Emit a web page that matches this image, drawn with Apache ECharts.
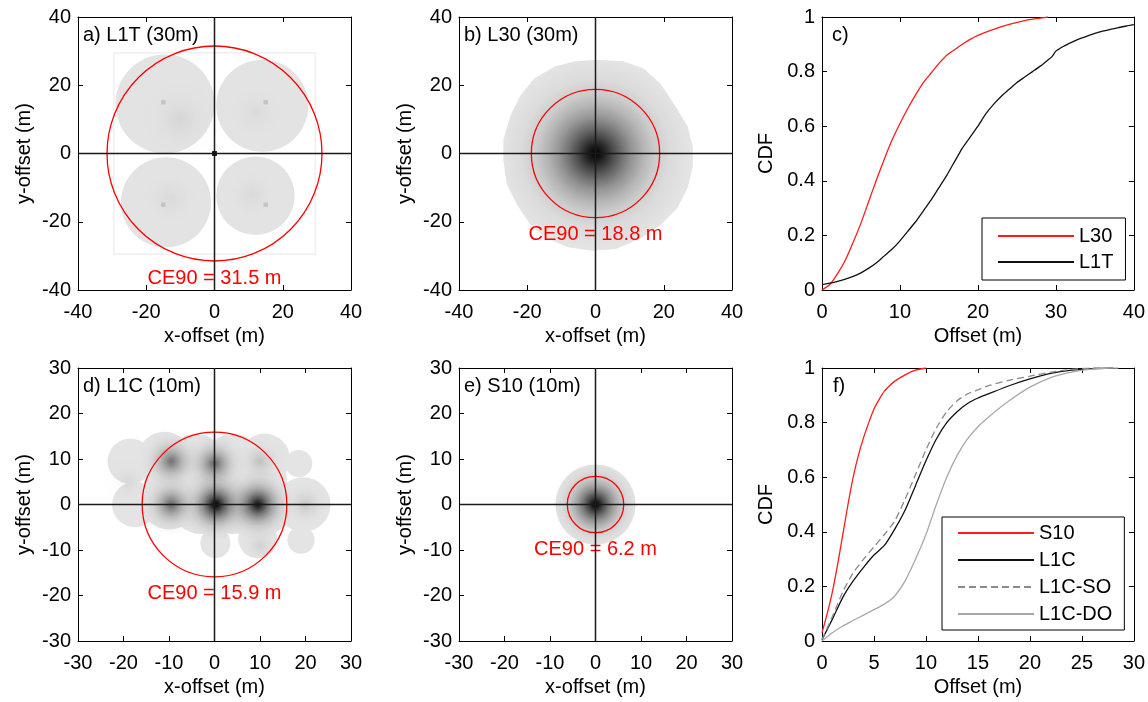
<!DOCTYPE html>
<html>
<head>
<meta charset="utf-8">
<script src="https://cdn.jsdelivr.net/npm/echarts@6/dist/echarts.min.js"></script>
<style>
  html, body { margin: 0; padding: 0; background: #fff; }
  #chart { width: 1148px; height: 702px; }
</style>
</head>
<body>
<div id="chart"></div>
<script>
// ---------- axis ticks ----------
const ticks40 = [-40, -20, 0, 20, 40];
const ticks30 = [-30, -20, -10, 0, 10, 20, 30];
const cdfTicksC = [0, 10, 20, 30, 40];
const cdfTicksF = [0, 5, 10, 15, 20, 25, 30];
const cdfTicksY = [0, 0.2, 0.4, 0.6, 0.8, 1];

// ---------- panel labels ----------
const panelTitles = ['a) L1T (30m)', 'b) L30 (30m)', 'c)', 'd) L1C (10m)', 'e) S10 (10m)', 'f)'];

// ---------- CE90 radii (m), panels a, b, d, e ----------
const ce90Radius = [31.5, 18.8, 15.9, 6.2];

// ---------- offset footprints ----------
// discs: [x, y, radius]; cores: [x, y, radius, darkness]
const l1tDiscs = [[-14.5, 14.5, 14.5], [14, 14, 13.5], [-14.2, -14.3, 13.2], [12, -12.4, 11.5]];
const l1tCores = [[-10, 10, 12, 0.06], [12, 12, 10, 0.03], [-13, -13, 10, 0.04], [11, -12, 9, 0.04]];
const l1tSpots = [[-15, 15], [15, 15], [-15, -15], [15, -15]];
const l1tCentre = [[0, 0]];
const l1tFrame = [[-29.5, 29.5, 29.5, -29.5]];

const l30Outline = [
  [0, 27.5], [8, 27], [14, 25], [19, 20.5], [23, 14.5], [27, 8], [28.5, 2], [28.5, -4],
  [27, -10], [24, -16], [19, -21], [13, -25], [6, -28], [-1, -28.5], [-8, -27.5],
  [-14, -25], [-19, -21], [-23, -15], [-26, -9], [-27, -2], [-27, 4], [-25, 11],
  [-22, 17], [-18, 22], [-12, 25.5], [-6, 27]
];
const l30Cores = [[0, 0, 28, 1]];

const l1cDiscs = [
  [-18.5, 9.5, 5], [-11, 10, 6], [-4, 10, 5.6], [4, 10, 5.6], [11, 10, 5.6], [18.5, 9, 3],
  [-17.5, 0, 5], [-10, 1, 6.5], [-3, 0, 6.5], [4, 0, 6.5], [11, 0, 6.5], [19.5, 0, 6],
  [-10, 5, 5.5], [0, 5, 6], [10, 5, 6],
  [0.2, -8.5, 3.3], [9.5, -7.5, 4.3], [19, -7.8, 3]
];
const l1cCores = [
  [0.3, 0, 8, 1], [9.5, 0, 8, 0.92], [-9.5, 0, 7, 0.55], [-9.5, 9.5, 7, 0.5],
  [0, 9, 7, 0.55], [10, 9.5, 6, 0.15], [20, 0, 6, 0.12], [10, -9, 5, 0.08], [-19, 5, 6, 0.05]
];

const s10Discs = [[0, 0, 8.8]];
const s10Cores = [[0, 0, 9.5, 1]];

// ---------- CDF curves: [offset (m), fraction] ----------
const l30Cdf = [[0, 0], [1, 0.02], [2, 0.06], [3, 0.11], [4, 0.175], [5, 0.245], [6, 0.325], [7, 0.405],
  [8, 0.48], [9, 0.55], [10, 0.61], [11, 0.665], [12, 0.715], [13, 0.76], [14, 0.795], [15, 0.83],
  [16, 0.86], [17, 0.88], [18, 0.9], [19, 0.918], [20, 0.933], [22, 0.955], [24, 0.973], [26, 0.987],
  [28, 0.996], [29, 1]];
const l1tCdf = [[0, 0.02], [1, 0.025], [2, 0.032], [3, 0.04], [4, 0.05], [5, 0.063], [6, 0.08], [7, 0.1],
  [8, 0.125], [9, 0.15], [10, 0.18], [11, 0.215], [12, 0.25], [13, 0.29], [14, 0.33], [15, 0.375],
  [16, 0.42], [17, 0.47], [18, 0.52], [19, 0.56], [20, 0.6], [21, 0.645], [22, 0.68], [23, 0.71],
  [24, 0.735], [25, 0.76], [26, 0.78], [27, 0.8], [28, 0.82], [29, 0.843], [29.5, 0.855], [30, 0.875],
  [31, 0.893], [32, 0.907], [33, 0.92], [34, 0.93], [35, 0.94], [36, 0.948], [37, 0.955], [38, 0.961],
  [39, 0.967], [40, 0.972]];
const s10Cdf = [[0, 0.03], [0.5, 0.1], [1, 0.18], [1.5, 0.28], [2, 0.39], [2.5, 0.5], [3, 0.6], [3.5, 0.68],
  [4, 0.745], [4.5, 0.8], [5, 0.85], [5.5, 0.885], [6, 0.915], [6.5, 0.935], [7, 0.952], [8, 0.975],
  [9, 0.992], [10, 1]];
const l1cCdf = [[0, 0.005], [1, 0.08], [2, 0.16], [3, 0.22], [4, 0.27], [5, 0.315], [6, 0.35], [7, 0.41],
  [8, 0.48], [9, 0.57], [10, 0.66], [11, 0.74], [12, 0.8], [13, 0.84], [14, 0.87], [15, 0.89],
  [16, 0.905], [18, 0.935], [20, 0.96], [22, 0.98], [24, 0.992], [26, 0.998], [28, 1]];
const l1cSoCdf = [[0, 0.005], [1, 0.09], [2, 0.18], [3, 0.25], [4, 0.3], [5, 0.345], [6, 0.39], [7, 0.44],
  [8, 0.52], [9, 0.61], [10, 0.7], [11, 0.78], [12, 0.84], [13, 0.88], [14, 0.905], [15, 0.92],
  [16, 0.935], [18, 0.955], [20, 0.97], [22, 0.985], [24, 0.995], [26, 1], [27.5, 1]];
const l1cDoCdf = [[0, 0], [1, 0.03], [2, 0.055], [3, 0.075], [4, 0.095], [5, 0.115], [6, 0.135], [7, 0.165],
  [8, 0.22], [9, 0.3], [10, 0.39], [11, 0.5], [12, 0.6], [13, 0.68], [14, 0.74], [15, 0.785],
  [16, 0.82], [18, 0.88], [20, 0.93], [22, 0.965], [24, 0.985], [26, 0.996], [28, 1], [28.5, 1]];

// ---------- styling ----------
const FONT = '"Liberation Sans", Arial, Helvetica, sans-serif';
const FS = 20;
const INK = '#000';
const PLATEAU = '#e4e4e4';
// radial fall-off of the dark cores (offset along radius, opacity)
const coreFalloff = [[0, 1], [0.08, 0.88], [0.18, 0.68], [0.28, 0.5], [0.38, 0.35], [0.5, 0.21],
  [0.62, 0.11], [0.78, 0.04], [1, 0]];

const grids = [
  { left: 78, top: 17, width: 273, height: 273 },
  { left: 459, top: 17, width: 273, height: 273 },
  { left: 822, top: 17, width: 312, height: 273 },
  { left: 78, top: 368, width: 273, height: 273 },
  { left: 459, top: 368, width: 273, height: 273 },
  { left: 822, top: 368, width: 312, height: 273 }
];

const xAxes = [];
const yAxes = [];
function addAxes(g, xt, yt, xName, yName, yGap) {
  const common = {
    gridIndex: g, type: 'value', splitLine: { show: false },
    axisLine: { show: true, onZero: false, lineStyle: { color: INK, width: 1 } },
    axisTick: { show: true, inside: true, length: 5, lineStyle: { color: INK, width: 1 } }
  };
  const label = { show: true, fontSize: FS, fontFamily: FONT, color: INK, showMinLabel: true, showMaxLabel: true };
  const nameStyle = { fontSize: FS, fontFamily: FONT, color: INK };
  xAxes.push(Object.assign({}, common, {
    position: 'bottom', min: xt[0], max: xt[xt.length - 1], interval: xt[1] - xt[0],
    axisLabel: Object.assign({ margin: 12 }, label),
    name: xName, nameLocation: 'middle', nameGap: 36, nameTextStyle: nameStyle
  }));
  xAxes.push(Object.assign({}, common, {
    position: 'top', min: xt[0], max: xt[xt.length - 1], interval: xt[1] - xt[0],
    axisLabel: { show: false }
  }));
  yAxes.push(Object.assign({}, common, {
    position: 'left', min: yt[0], max: yt[yt.length - 1], interval: yt[1] - yt[0],
    axisLabel: Object.assign({ margin: 7 }, label),
    name: yName, nameLocation: 'middle', nameGap: yGap, nameTextStyle: nameStyle
  }));
  yAxes.push(Object.assign({}, common, {
    position: 'right', min: yt[0], max: yt[yt.length - 1], interval: yt[1] - yt[0],
    axisLabel: { show: false }
  }));
}
addAxes(0, ticks40, ticks40, 'x-offset (m)', 'y-offset (m)', 44);
addAxes(1, ticks40, ticks40, 'x-offset (m)', 'y-offset (m)', 44);
addAxes(2, cdfTicksC, cdfTicksY, 'Offset (m)', 'CDF', 46);
addAxes(3, ticks30, ticks30, 'x-offset (m)', 'y-offset (m)', 44);
addAxes(4, ticks30, ticks30, 'x-offset (m)', 'y-offset (m)', 44);
addAxes(5, cdfTicksF, cdfTicksY, 'Offset (m)', 'CDF', 46);

function onGrid(g) {
  return { xAxisIndex: 2 * g, yAxisIndex: 2 * g, animation: false, silent: true };
}

function discSeries(g, data, fill, z) {
  return Object.assign(onGrid(g), {
    type: 'custom', z, data, encode: { x: 0, y: 1 },
    renderItem(params, api) {
      const c = api.coord([api.value(0), api.value(1)]);
      const r = api.size([api.value(2), api.value(2)])[0];
      return { type: 'circle', shape: { cx: c[0], cy: c[1], r }, style: { fill } };
    }
  });
}

function coreSeries(g, data, z) {
  return Object.assign(onGrid(g), {
    type: 'custom', z, data, encode: { x: 0, y: 1 },
    renderItem(params, api) {
      const c = api.coord([api.value(0), api.value(1)]);
      const r = api.size([api.value(2), api.value(2)])[0];
      const k = api.value(3);
      return {
        type: 'circle', shape: { cx: c[0], cy: c[1], r },
        style: {
          fill: {
            type: 'radial', x: 0.5, y: 0.5, r: 0.5, global: false,
            colorStops: coreFalloff.map(([o, a]) => ({ offset: o, color: 'rgba(0,0,0,' + (a * k).toFixed(4) + ')' }))
          }
        }
      };
    }
  });
}

function squareSeries(g, data, size, fill, z) {
  return Object.assign(onGrid(g), {
    type: 'custom', z, data, encode: { x: 0, y: 1 },
    renderItem(params, api) {
      const c = api.coord([api.value(0), api.value(1)]);
      const s = api.size([size, size]);
      return { type: 'rect', shape: { x: c[0] - s[0] / 2, y: c[1] - s[1] / 2, width: s[0], height: s[1] }, style: { fill } };
    }
  });
}

function frameSeries(g, data, z) {
  return Object.assign(onGrid(g), {
    type: 'custom', z, data, encode: { x: [0, 2], y: [1, 3] },
    renderItem(params, api) {
      const p0 = api.coord([api.value(0), api.value(1)]);
      const p1 = api.coord([api.value(2), api.value(3)]);
      return {
        type: 'rect', shape: { x: p0[0], y: p0[1], width: p1[0] - p0[0], height: p1[1] - p0[1] },
        style: { fill: 'none', stroke: '#ececec', lineWidth: 1.2 }
      };
    }
  });
}

function outlineSeries(g, pts, fill, z) {
  return Object.assign(onGrid(g), {
    type: 'custom', z, data: pts, encode: { x: 0, y: 1 },
    renderItem(params, api) {
      if (params.dataIndex !== 0) return null;
      return { type: 'polygon', shape: { points: pts.map(p => api.coord(p)) }, style: { fill } };
    }
  });
}

function ceSeries(g, radius, z) {
  return Object.assign(onGrid(g), {
    type: 'custom', z, data: [[0, 0, radius]], encode: { x: 0, y: 1 },
    renderItem(params, api) {
      const c = api.coord([api.value(0), api.value(1)]);
      const r = api.size([api.value(2), api.value(2)])[0];
      return {
        type: 'group', children: [
          { type: 'circle', shape: { cx: c[0], cy: c[1], r }, style: { fill: 'none', stroke: '#ff0000', lineWidth: 1.3 } },
          { type: 'text', x: c[0], y: c[1] + r + 17,
            style: { text: 'CE90 = ' + api.value(2).toFixed(1) + ' m', fill: '#ff0000', font: FS + 'px ' + FONT, align: 'center', verticalAlign: 'middle' } }
        ]
      };
    }
  });
}

function crossSeries(g, t, z) {
  const lo = t[0], hi = t[t.length - 1];
  const style = { color: '#1a1a1a', width: 1.5 };
  return [
    Object.assign(onGrid(g), { type: 'line', z, symbol: 'none', data: [[0, lo], [0, hi]], lineStyle: style }),
    Object.assign(onGrid(g), { type: 'line', z, symbol: 'none', data: [[lo, 0], [hi, 0]], lineStyle: style })
  ];
}

function cdfSeries(g, name, data, color, type) {
  return Object.assign(onGrid(g), {
    type: 'line', name, data, symbol: 'none', z: 3, smooth: 0.2,
    lineStyle: { color, width: 1.3, type: type || 'solid' },
    itemStyle: { color }
  });
}

const series = [
  // a) L1T
  frameSeries(0, l1tFrame, 1),
  discSeries(0, l1tDiscs, '#e3e3e3', 2),
  coreSeries(0, l1tCores, 3),
  squareSeries(0, l1tSpots, 1.3, '#c4c4c4', 4),
  squareSeries(0, l1tCentre, 1.4, '#000', 4),
  ceSeries(0, ce90Radius[0], 5),
  ...crossSeries(0, ticks40, 6),
  // b) L30
  outlineSeries(1, l30Outline, PLATEAU, 2),
  coreSeries(1, l30Cores, 3),
  ceSeries(1, ce90Radius[1], 5),
  ...crossSeries(1, ticks40, 6),
  // c) CDF
  cdfSeries(2, 'L30', l30Cdf, '#ff1a1a'),
  cdfSeries(2, 'L1T', l1tCdf, '#111111'),
  // d) L1C
  discSeries(3, l1cDiscs, PLATEAU, 2),
  coreSeries(3, l1cCores, 3),
  ceSeries(3, ce90Radius[2], 5),
  ...crossSeries(3, ticks30, 6),
  // e) S10
  discSeries(4, s10Discs, PLATEAU, 2),
  coreSeries(4, s10Cores, 3),
  ceSeries(4, ce90Radius[3], 5),
  ...crossSeries(4, ticks30, 6),
  // f) CDF
  cdfSeries(5, 'S10', s10Cdf, '#ff1a1a'),
  cdfSeries(5, 'L1C', l1cCdf, '#111111'),
  cdfSeries(5, 'L1C-SO', l1cSoCdf, '#8a8a8a', [7, 4]),
  cdfSeries(5, 'L1C-DO', l1cDoCdf, '#a8a8a8')
];

const titlePos = [[83, 25], [464, 25], [832, 25], [83, 376], [464, 376], [833, 376]];
const titles = panelTitles.map((t, i) => ({
  text: t, left: titlePos[i][0], top: titlePos[i][1], padding: 0,
  textStyle: { fontSize: FS, fontWeight: 'normal', fontFamily: FONT, color: INK }
}));

const legendCommon = {
  orient: 'vertical', itemWidth: 76, itemHeight: 14, backgroundColor: '#fff',
  borderColor: INK, borderWidth: 1, borderRadius: 0,
  itemStyle: { color: 'rgba(0,0,0,0)', borderColor: 'rgba(0,0,0,0)', borderWidth: 0, opacity: 0 },
  textStyle: { fontSize: FS, fontFamily: FONT, color: INK }, selectedMode: false
};

const chart = echarts.init(document.getElementById('chart'), null, { renderer: 'canvas' });
chart.setOption({
  animation: false,
  backgroundColor: '#fff',
  title: titles,
  grid: grids,
  xAxis: xAxes,
  yAxis: yAxes,
  legend: [
    Object.assign({}, legendCommon, { data: ['L30', 'L1T'], left: 982, top: 218, itemGap: 6, padding: [8, 12, 8, 15] }),
    Object.assign({}, legendCommon, { data: ['S10', 'L1C', 'L1C-SO', 'L1C-DO'], left: 942, top: 517, itemGap: 7, padding: [6, 12, 6, 15] })
  ],
  series
});
</script>
</body>
</html>
